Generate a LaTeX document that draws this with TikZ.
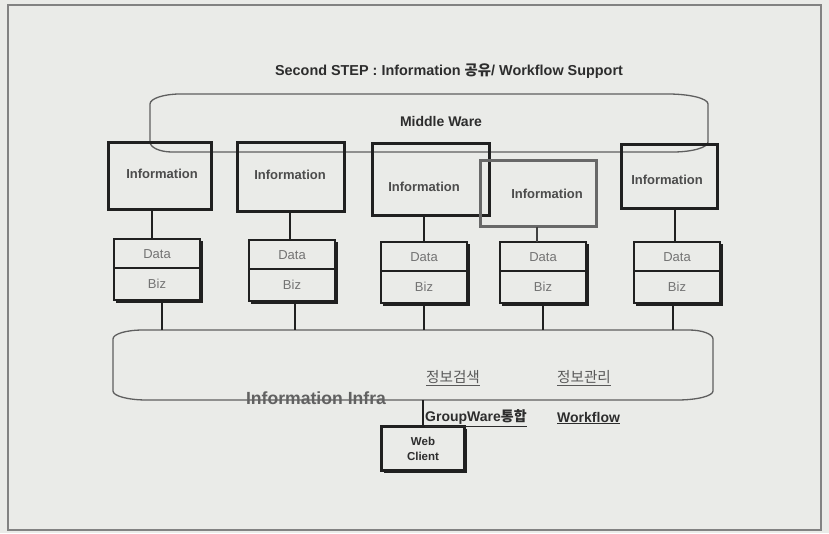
\documentclass[tikz,border=0pt]{standalone}
\usepackage{fontspec}
\setmainfont{Liberation Sans}
\newfontfamily\kr{Noto Sans CJK KR}
\usetikzlibrary{calc}

\definecolor{paper}{RGB}{234,235,232}
\definecolor{framegray}{RGB}{130,130,130}
\definecolor{ink}{RGB}{32,32,32}
\definecolor{midgray}{RGB}{95,95,95}
\definecolor{softgray}{RGB}{104,104,104}
\definecolor{txtdark}{RGB}{45,45,45}

\tikzset{
  infobox/.style={draw=ink, line width=3pt, fill=none, inner sep=0pt, outer sep=0pt},
  infobox light/.style={infobox, draw=softgray},
  infotext/.style={font=\bfseries\fontsize{13}{15}\selectfont, text=txtdark!85!white},
  layerbox/.style={draw=ink, line width=2pt, minimum width=86pt, minimum height=61pt,
    inner sep=0pt, outer sep=0pt},
  layertext/.style={font=\fontsize{13}{15}\selectfont, text=black!55},
  link/.style={draw=ink, line width=2.4pt},
  ware/.style={draw=midgray, line width=1.3pt},
  blank/.style={inner sep=0pt, outer sep=0pt},
  krlabel/.style={font=\kr\fontsize{14.6}{16}\selectfont, text=black!65},
  boldlabel/.style={font=\bfseries\fontsize{14}{16}\selectfont, text=txtdark},
}

\begin{document}
\begin{tikzpicture}[x=1pt, y=-1pt]
  % page and frame
  \fill[paper] (0,0) rectangle (829,533);
  \useasboundingbox (0,0) rectangle (829,533);
  \draw[framegray, line width=1.6pt] (8,5) rectangle (821,530);

  % title
  \node[font=\bfseries\fontsize{14.4}{16}\selectfont, text=txtdark] (title) at (449,71)
    {Second STEP : Information {\kr 공유}/ Workflow Support};

  % Middle Ware band (elliptical corners)
  \node[blank, minimum width=558pt, minimum height=58pt] (mw) at (429,123) {};
  \draw[ware]
    ($(mw.north west)+(30,0)$) -- ($(mw.north east)+(-40,0)$)
      .. controls +(22,0) and +(0,-5.5) .. ($(mw.north east)+(0,10)$)
    -- ($(mw.south east)+(0,-10)$)
      .. controls +(0,5.5) and +(19,0) .. ($(mw.south east)+(-35,0)$)
    -- ($(mw.south west)+(22,0)$)
      .. controls +(-12,0) and +(0,5.5) .. ($(mw.south west)+(0,-10)$)
    -- ($(mw.north west)+(0,10)$)
      .. controls +(0,-5.5) and +(-16,0) .. ($(mw.north west)+(30,0)$) -- cycle;
  \node[font=\bfseries\fontsize{14}{16}\selectfont, text=txtdark] (mwtext) at (441,121) {Middle Ware};

  % Information boxes
  \node[infobox, minimum width=103pt, minimum height=67pt] (i1) at (160,176) {};
  \node[infobox, minimum width=107pt, minimum height=69pt] (i2) at (291,177) {};
  \node[infobox, minimum width=117pt, minimum height=72pt] (i3) at (431,179.5) {};
  \node[infobox light, minimum width=116pt, minimum height=66pt] (i4) at (538.5,193.5) {};
  \node[infobox, minimum width=96pt, minimum height=64pt] (i5) at (669.5,176.5) {};
  \node[infotext] at (162,174) {Information};
  \node[infotext] at (290,175) {Information};
  \node[infotext] at (424,187) {Information};
  \node[infotext] at (547,194) {Information};
  \node[infotext] at (667,180) {Information};

  % Data / Biz stacks with a dark edge on the right and bottom
  \foreach \n/\cx/\cy in {1/157/269.5, 2/292/270.5, 3/424/272.5, 4/543/272.5, 5/677/272.5}{
    \node[layerbox] (d\n) at (\cx,\cy) {};
    \draw[ink, line width=1.6pt] ($(d\n.north east)+(2,2)$) -- ($(d\n.south east)+(2,2)$)
      -- ($(d\n.south west)+(2,2)$);
    \draw[ink, line width=1.8pt] ($(d\n.north west)+(0,29)$) -- ($(d\n.north east)+(0,29)$);
    \node[layertext] at ($(d\n.north)+(0,15)$) {Data};
    \node[layertext] at ($(d\n.north)+(0,45)$) {Biz};
  }

  % Information Infra band
  \node[blank, minimum width=600pt, minimum height=70pt] (infra) at (413,365) {};
  \draw[ware]
    ($(infra.north west)+(30,0)$) -- ($(infra.north east)+(-24,0)$)
      .. controls +(13,0) and +(0,-5) .. ($(infra.north east)+(0,9)$)
    -- ($(infra.south east)+(0,-9)$)
      .. controls +(0,5) and +(20,0) .. ($(infra.south east)+(-36,0)$)
    -- ($(infra.south west)+(34,0)$)
      .. controls +(-19,0) and +(0,5) .. ($(infra.south west)+(0,-9)$)
    -- ($(infra.north west)+(0,9)$)
      .. controls +(0,-5) and +(-17,0) .. ($(infra.north west)+(30,0)$) -- cycle;

  % links from Information boxes down to the Data/Biz stacks
  \coordinate (u1) at ($(i1.south)+(-8,0)$);
  \coordinate (u2) at ($(i2.south)+(-1,0)$);
  \coordinate (u3) at ($(i3.south)+(-7,0)$);
  \coordinate (u4) at ($(i4.south)+(-1.5,0)$);
  \coordinate (u5) at ($(i5.south)+(5.5,0)$);
  \draw[link] (u1) -- (u1 |- d1.north);
  \draw[link] (u2) -- (u2 |- d2.north);
  \draw[link] (u3) -- (u3 |- d3.north);
  \draw[link, draw=ink!85] (u4) -- (u4 |- d4.north);
  \draw[link] (u5) -- (u5 |- d5.north);

  % links from the stacks down to the Information Infra band
  \coordinate (b1) at ($(d1.south)+(5,2)$);
  \coordinate (b2) at ($(d2.south)+(3,2)$);
  \coordinate (b3) at ($(d3.south)+(0,2)$);
  \coordinate (b4) at ($(d4.south)+(0,2)$);
  \coordinate (b5) at ($(d5.south)+(-4,2)$);
  \foreach \n in {1,...,5}{
    \draw[link] (b\n) -- (b\n |- infra.north);
  }

  % labels inside and on the Infra band
  \node[font=\bfseries\fontsize{17.6}{19}\selectfont, text=black!62] (infratext) at (316,398)
    {Information Infra};
  \node[krlabel] (search) at (453,378) {\underline{정보검색}};
  \node[krlabel] (manage) at (584,378) {\underline{정보관리}};

  % Web Client
  \node[infobox, line width=2.4pt, minimum width=83pt, minimum height=44pt] (wc) at (423,448.5) {};
  \draw[ink, line width=1.6pt] ($(wc.north east)+(2,2)$) -- ($(wc.south east)+(2,2)$)
    -- ($(wc.south west)+(2,2)$);
  \node[font=\bfseries\fontsize{11.5}{15}\selectfont, text=txtdark, align=center] at (wc.center)
    {Web\\Client};
  \draw[link, line width=2pt] (infra.south -| wc.north) -- (wc.north);

  % feature labels under the band
  \node[boldlabel, anchor=west, inner sep=0pt] (gw) at (425,418)
    {\underline{GroupWare{\kr 통합}}};
  \node[boldlabel, anchor=west, inner sep=0pt] (wf) at (557,418) {\underline{Workflow}};
\end{tikzpicture}
\end{document}
